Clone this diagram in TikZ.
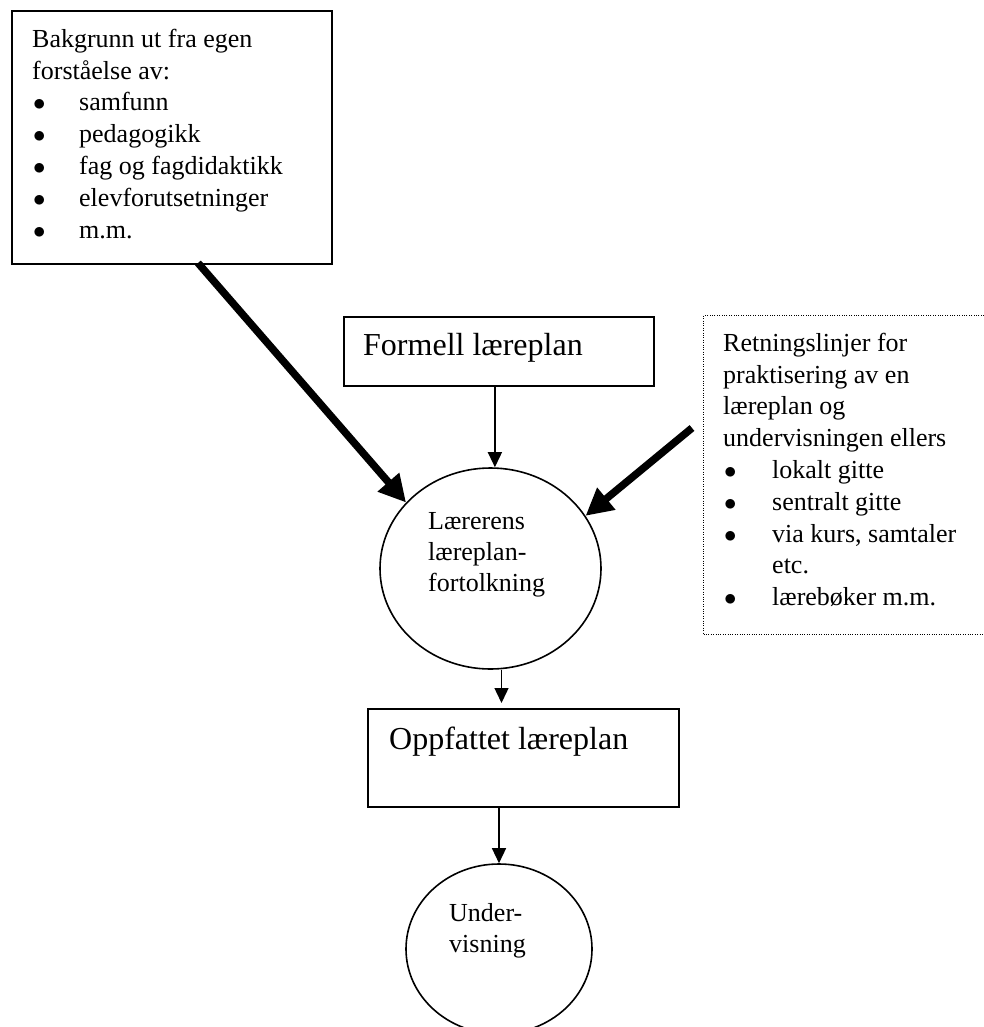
\documentclass[tikz,border=0pt]{standalone}
\usepackage{fontspec}
\setmainfont{Liberation Serif}
\usetikzlibrary{arrows.meta,shapes.geometric}

% bullet item: bullet near the left margin, text at a hanging indent
\newcommand\bul[2]{\hspace*{1pt}\makebox[\dimexpr#1pt-1pt\relax][l]{$\bullet$}#2}
% fixes the height of a block's first line
\newcommand\firstln{\rule{0pt}{24pt}}

\tikzset{
  frame/.style={draw, line width=1.8pt, rectangle, inner sep=0pt, anchor=north west},
  dotframe/.style={draw, line width=1pt, dash pattern=on 1pt off 1.4pt, rectangle, inner sep=0pt, anchor=north west},
  oval/.style={draw, line width=1.6pt, ellipse, inner sep=0pt},
  smalltxt/.style={inner sep=0pt, align=left, font=\fontsize{26}{31.8}\selectfont},
  circtxt/.style={inner sep=0pt, align=left, font=\fontsize{26}{31.2}\selectfont},
  bigtxt/.style={inner sep=0pt, font=\fontsize{32}{38}\selectfont},
  heavyarrow/.style={line width=7.5pt, -{Triangle[length=27pt,width=27pt]}},
  lightarrow/.style={line width=1.4pt, -{Triangle[length=15pt,width=14pt]}}
}

\begin{document}
\begin{tikzpicture}[x=1pt,y=-1pt]
\useasboundingbox (0,0) rectangle (984,1027);
\clip (0,0) rectangle (984,1027);

% boxes and ovals
\node[frame, minimum width=320pt, minimum height=253pt] (bg) at (11,10) {};
\node[frame, minimum width=310pt, minimum height=69pt] (fl) at (343,316) {};
\node[dotframe, minimum width=300pt, minimum height=319pt] (rl) at (703,315) {};
\node[oval, minimum width=221pt, minimum height=201pt] (lf) at (490.5,568.5) {};
\node[frame, minimum width=311pt, minimum height=98pt] (op) at (367,708) {};
\node[oval, minimum width=186pt, minimum height=170pt] (uv) at (499,949) {};

% texts
\node[smalltxt, anchor=north west] (bgtext) at (32,23) {%
  \firstln Bakgrunn ut fra egen\\
  forståelse av:\\
  \bul{47}{samfunn}\\
  \bul{47}{pedagogikk}\\
  \bul{47}{fag og fagdidaktikk}\\
  \bul{47}{elevforutsetninger}\\
  \bul{47}{m.m.}};
\node[bigtxt, anchor=base west] (fltext) at (363,355) {Formell læreplan};
\node[smalltxt, anchor=north west] (rltext) at (723,327) {%
  \firstln Retningslinjer for\\
  praktisering av en\\
  læreplan og\\
  undervisningen ellers\\
  \bul{49}{lokalt gitte}\\
  \bul{49}{sentralt gitte}\\
  \bul{49}{via kurs, samtaler}\\
  \hspace*{49pt}etc.\\
  \bul{49}{lærebøker m.m.}};
\node[circtxt, anchor=north west] (lftext) at (428,505) {%
  \firstln Lærerens\\
  læreplan-\\
  fortolkning};
\node[bigtxt, anchor=base west] (optext) at (389,749) {Oppfattet læreplan};
\node[circtxt, anchor=north west] (uvtext) at (449,897) {%
  \firstln Under-\\
  visning};

% connectors
\coordinate (bgout) at (198,263);
\coordinate (rlout) at (692,428);
\draw[heavyarrow] (bgout) -- (lf.142);
\draw[heavyarrow] (rlout) -- (lf.29);
\draw[lightarrow] ([xshift=-4pt]fl.south) -- ([xshift=-4pt]fl.south |- lf.north);
\draw[lightarrow, shorten >=5pt] ([xshift=11pt]lf.south) -- ([xshift=11pt]lf.south |- op.north);
\draw[lightarrow] (op.south -| uv.north) -- (uv.north);
\end{tikzpicture}
\end{document}
